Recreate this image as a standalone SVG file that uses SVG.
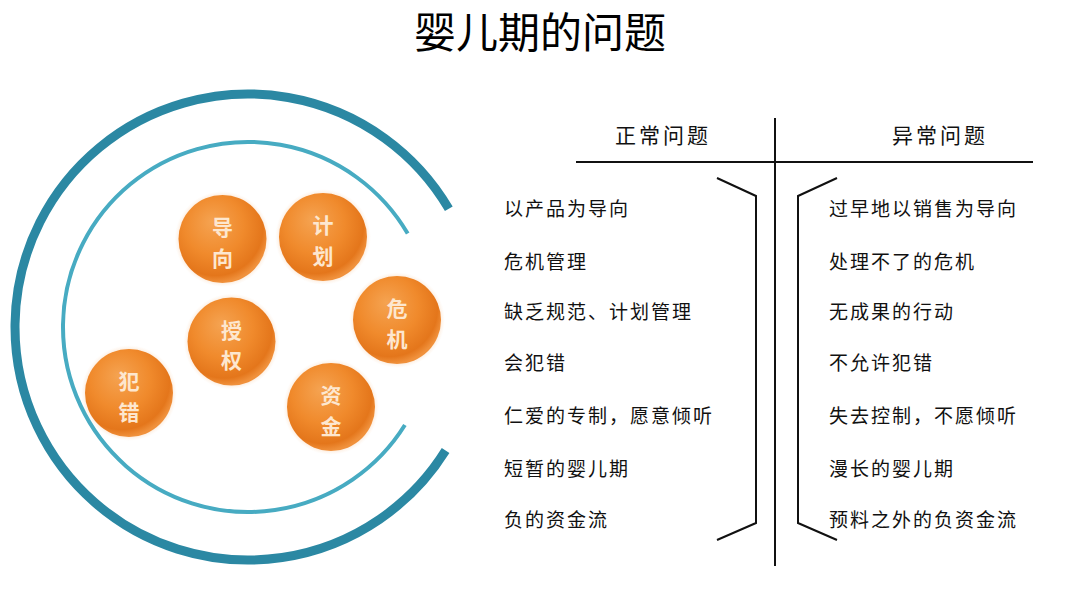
<svg xmlns="http://www.w3.org/2000/svg" width="1080" height="593" viewBox="0 0 1080 593">
  <defs>
    <radialGradient id="ballFill" cx="0.42" cy="0.38" r="0.62" fx="0.38" fy="0.3">
      <stop offset="0" stop-color="#f5a351"/>
      <stop offset="0.55" stop-color="#f08a2c"/>
      <stop offset="0.88" stop-color="#e4761b"/>
      <stop offset="1" stop-color="#f0913c"/>
    </radialGradient>
    <radialGradient id="ballGlow" cx="0.5" cy="0.5" r="0.5">
      <stop offset="0.85" stop-color="#f6b47a" stop-opacity="0.5"/>
      <stop offset="1" stop-color="#fbe0c6" stop-opacity="0"/>
    </radialGradient>
    <style>
      .title { font-family: "Noto Sans CJK SC", "Noto Sans", sans-serif; font-size: 42px; fill: #000; }
      .head { font-family: "Noto Sans CJK SC", "Noto Sans", sans-serif; font-size: 21px; letter-spacing: 3px; fill: #111; }
      .row { font-family: "Noto Sans CJK SC", "Noto Sans", sans-serif; font-size: 19px; letter-spacing: 2px; fill: #111; }
      .ball { fill: url(#ballFill); }
      .glow { fill: url(#ballGlow); }
      .btxt { font-family: "Noto Sans CJK SC", "Noto Sans", sans-serif; font-size: 21px; font-weight: bold; fill: #fde7cf; text-anchor: middle; }
      .line { stroke: #111; stroke-width: 2; fill: none; }
      .outer { stroke: #2b88a3; stroke-width: 9; fill: none; }
      .inner { stroke: #47abc2; stroke-width: 4; fill: none; }
    </style>
  </defs>
  <rect width="1080" height="593" fill="#ffffff"/>

  <text class="title" x="540" y="48" text-anchor="middle">婴儿期的问题</text>

  <g id="arcs">
    <path class="outer" d="M 448.8 208.8 A 233 233 0 1 0 445.6 450.5"/>
    <path class="inner" d="M 407.7 233.6 A 185 185 0 1 0 404.9 425"/>
  </g>

  <g id="node-daoxiang">
    <circle class="glow" cx="222.5" cy="239" r="48"/>
    <circle class="ball" cx="222.5" cy="239" r="44"/>
    <text class="btxt" x="222.5" y="235">导<tspan x="222.5" dy="30.6">向</tspan></text>
  </g>
  <g id="node-jihua">
    <circle class="glow" cx="323" cy="237" r="48"/>
    <circle class="ball" cx="323" cy="237" r="44"/>
    <text class="btxt" x="323" y="233">计<tspan x="323" dy="30.6">划</tspan></text>
  </g>
  <g id="node-weiji">
    <circle class="glow" cx="397" cy="320" r="48"/>
    <circle class="ball" cx="397" cy="320" r="44"/>
    <text class="btxt" x="397" y="316">危<tspan x="397" dy="30.6">机</tspan></text>
  </g>
  <g id="node-shouquan">
    <circle class="glow" cx="231.5" cy="341.5" r="48"/>
    <circle class="ball" cx="231.5" cy="341.5" r="44"/>
    <text class="btxt" x="231.5" y="337.5">授<tspan x="231.5" dy="30.6">权</tspan></text>
  </g>
  <g id="node-fancuo">
    <circle class="glow" cx="129" cy="393" r="48"/>
    <circle class="ball" cx="129" cy="393" r="44"/>
    <text class="btxt" x="129" y="389">犯<tspan x="129" dy="30.6">错</tspan></text>
  </g>
  <g id="node-zijin">
    <circle class="glow" cx="331" cy="407" r="48"/>
    <circle class="ball" cx="331" cy="407" r="44"/>
    <text class="btxt" x="331" y="403">资<tspan x="331" dy="30.6">金</tspan></text>
  </g>

  <g id="table-lines">
    <line class="line" x1="775" y1="118" x2="775" y2="566"/>
    <line class="line" x1="576" y1="162" x2="1033" y2="162"/>
    <polyline class="line" points="717,178 756,196 756,523 717,540"/>
    <polyline class="line" points="837,178 798,196 798,523 837,540"/>
  </g>

  <g id="headers">
    <text class="head" x="615" y="143">正常问题</text>
    <text class="head" x="892" y="143">异常问题</text>
  </g>

  <g id="normal-list">
    <text class="row" x="504" y="216">以产品为导向</text>
    <text class="row" x="504" y="269">危机管理</text>
    <text class="row" x="504" y="319">缺乏规范、计划管理</text>
    <text class="row" x="504" y="370">会犯错</text>
    <text class="row" x="504" y="423">仁爱的专制，愿意倾听</text>
    <text class="row" x="504" y="476">短暂的婴儿期</text>
    <text class="row" x="504" y="527">负的资金流</text>
  </g>

  <g id="abnormal-list">
    <text class="row" x="829" y="216">过早地以销售为导向</text>
    <text class="row" x="829" y="269">处理不了的危机</text>
    <text class="row" x="829" y="319">无成果的行动</text>
    <text class="row" x="829" y="370">不允许犯错</text>
    <text class="row" x="829" y="423">失去控制，不愿倾听</text>
    <text class="row" x="829" y="476">漫长的婴儿期</text>
    <text class="row" x="829" y="527">预料之外的负资金流</text>
  </g>
</svg>
